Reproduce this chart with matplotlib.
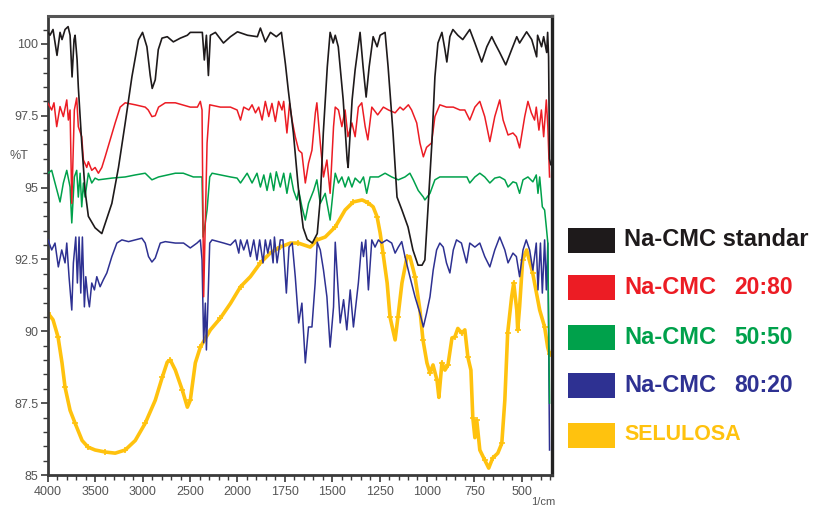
import numpy as np
import matplotlib
matplotlib.use("Agg")
import matplotlib.pyplot as plt
from matplotlib.ticker import FixedLocator, FixedFormatter
from matplotlib.patches import Rectangle

# ---- data: (wavenumber 1/cm, %T) ----
black = [(4000, 100.4), (3979, 100.3), (3947, 100.5), (3905, 99.6), (3873, 100.4), (3852, 100.15),
         (3820, 100.5), (3788, 100.6), (3767, 100.3), (3746, 98.85), (3725, 100.15), (3714, 100.3),
         (3693, 99.45), (3680, 98.5), (3644, 96.55), (3609, 94.9), (3574, 94.0), (3503, 93.6),
         (3432, 93.4), (3326, 94.45), (3256, 95.7), (3185, 97.25), (3114, 98.86), (3045, 100.14),
         (3002, 100.4), (2956, 99.9), (2921, 98.9), (2900, 98.45), (2868, 98.75), (2836, 99.8),
         (2797, 100.2), (2741, 100.25), (2677, 100.07), (2603, 100.2), (2529, 100.3), (2498, 100.4),
         (2392, 100.4), (2371, 100.4), (2350, 99.44), (2328, 100.3), (2307, 98.9), (2286, 100.3),
         (2233, 100.4), (2148, 100.03), (2074, 100.25), (2000, 100.42), (1947, 100.3), (1895, 100.25),
         (1879, 100.55), (1853, 100.07), (1826, 100.4), (1795, 100.25), (1768, 100.4), (1747, 99.3),
         (1732, 98.4), (1705, 96.9), (1679, 95.0), (1653, 93.6), (1632, 93.2), (1605, 93.07),
         (1579, 93.4), (1563, 94.6), (1547, 96.9), (1526, 99.2), (1511, 100.4), (1495, 100.03),
         (1484, 100.3), (1468, 99.9), (1442, 98.05), (1421, 95.96), (1416, 95.7), (1395, 98.05),
         (1379, 99.1), (1353, 100.4), (1337, 99.2), (1321, 98.15), (1305, 99.2), (1284, 100.25),
         (1263, 99.9), (1247, 100.3), (1221, 100.4), (1205, 99.2), (1179, 96.9), (1158, 94.67),
         (1132, 94.22), (1100, 93.63), (1074, 92.83), (1047, 92.3), (1026, 92.3), (1011, 92.48),
         (995, 94.22), (974, 96.55), (958, 98.85), (942, 100.03), (921, 100.4), (905, 99.8),
         (895, 99.37), (879, 100.25), (863, 100.5), (837, 100.3), (811, 100.15), (774, 100.5),
         (747, 100.03), (711, 99.37), (684, 99.9), (658, 100.25), (642, 100.03), (616, 99.7),
         (584, 99.27), (553, 99.8), (526, 100.25), (511, 100.03), (474, 100.42), (447, 100.15),
         (421, 99.55), (416, 100.3), (395, 99.9), (384, 100.25), (368, 99.7), (363, 100.4),
         (358, 99.55), (353, 96.0), (347, 95.8)]

red = [(4000, 97.93), (3961, 97.7), (3937, 97.95), (3908, 97.12), (3873, 97.82), (3838, 97.47),
       (3802, 98.05), (3785, 97.35), (3767, 97.7), (3749, 94.45), (3722, 97.7), (3697, 98.12),
       (3680, 97.12), (3644, 96.77), (3626, 95.96), (3591, 95.7), (3574, 95.9), (3538, 95.6),
       (3503, 95.7), (3468, 95.5), (3432, 95.7), (3397, 96.07), (3344, 96.66), (3291, 97.25),
       (3238, 97.8), (3185, 97.95), (3079, 97.88), (2974, 97.8), (2942, 97.7), (2903, 97.47),
       (2868, 97.5), (2833, 97.8), (2762, 97.95), (2656, 97.95), (2603, 97.9), (2498, 97.8),
       (2423, 97.8), (2392, 98.0), (2374, 97.7), (2357, 91.2), (2321, 96.55), (2293, 97.88),
       (2180, 97.8), (2074, 97.8), (2004, 97.7), (1984, 97.35), (1967, 97.8), (1940, 97.7),
       (1923, 97.88), (1905, 97.6), (1888, 97.8), (1870, 97.35), (1853, 98.0), (1835, 97.47),
       (1818, 97.93), (1800, 97.3), (1783, 98.0), (1765, 97.7), (1756, 98.0), (1739, 96.9),
       (1725, 97.93), (1712, 97.35), (1695, 96.77), (1677, 96.3), (1660, 96.2), (1642, 95.16),
       (1625, 95.85), (1607, 96.3), (1589, 97.6), (1581, 97.95), (1563, 96.55), (1546, 95.37),
       (1528, 95.96), (1511, 94.8), (1493, 97.12), (1484, 97.8), (1467, 97.7), (1449, 97.12),
       (1432, 97.7), (1417, 96.77), (1396, 97.25), (1379, 96.77), (1362, 97.8), (1344, 97.95),
       (1326, 97.12), (1312, 96.66), (1291, 97.8), (1260, 97.53), (1230, 97.8), (1203, 97.7),
       (1168, 97.6), (1142, 97.8), (1125, 97.7), (1098, 97.88), (1081, 97.7), (1054, 97.25),
       (1037, 96.55), (1019, 96.07), (1002, 96.4), (976, 96.55), (958, 97.47), (932, 97.88),
       (897, 97.8), (861, 97.8), (826, 97.7), (800, 97.7), (774, 97.35), (747, 97.8),
       (721, 98.0), (695, 97.47), (668, 96.6), (642, 97.47), (616, 98.05), (598, 97.35),
       (572, 96.83), (546, 96.9), (528, 96.77), (511, 96.38), (484, 97.47), (467, 98.0),
       (449, 97.6), (432, 97.35), (423, 97.8), (409, 97.0), (396, 97.7), (384, 96.77),
       (370, 98.05), (362, 97.12), (353, 95.37)]

green = [(4000, 95.5), (3961, 95.6), (3926, 95.16), (3873, 94.5), (3838, 95.16), (3802, 95.6),
         (3767, 95.02), (3749, 93.77), (3722, 95.37), (3697, 95.6), (3680, 94.67), (3661, 95.5),
         (3644, 94.33), (3626, 95.16), (3609, 94.67), (3574, 95.5), (3538, 95.16), (3503, 95.33),
         (3468, 95.27), (3326, 95.33), (3185, 95.37), (3079, 95.44), (2974, 95.5), (2903, 95.27),
         (2833, 95.37), (2656, 95.5), (2572, 95.5), (2466, 95.37), (2374, 95.37), (2363, 93.28),
         (2346, 93.63), (2321, 94.22), (2293, 95.37), (2268, 95.5), (2074, 95.37), (2004, 95.33),
         (1984, 95.16), (1949, 95.5), (1923, 95.16), (1897, 95.5), (1879, 95.02), (1861, 95.44),
         (1844, 94.9), (1826, 95.5), (1809, 94.9), (1795, 95.55), (1774, 95.02), (1756, 95.5),
         (1739, 94.8), (1721, 95.5), (1704, 94.9), (1686, 94.57), (1677, 94.9), (1660, 94.33),
         (1642, 93.87), (1625, 94.45), (1598, 94.9), (1581, 95.27), (1563, 94.45), (1537, 94.8),
         (1511, 93.87), (1493, 95.02), (1484, 95.5), (1467, 95.16), (1449, 95.37), (1432, 95.02),
         (1414, 95.37), (1396, 95.02), (1379, 95.33), (1353, 95.16), (1335, 95.37), (1318, 94.8),
         (1300, 95.37), (1256, 95.37), (1221, 95.5), (1186, 95.37), (1151, 95.27), (1116, 95.37),
         (1090, 95.5), (1072, 95.27), (1046, 94.9), (1019, 94.67), (1011, 94.57), (984, 94.8),
         (958, 95.27), (932, 95.37), (863, 95.37), (789, 95.37), (774, 95.16), (747, 95.37),
         (721, 95.5), (695, 95.37), (668, 95.16), (642, 95.33), (616, 95.37), (589, 95.27),
         (572, 95.02), (546, 95.2), (528, 95.16), (511, 94.8), (493, 95.27), (467, 95.37),
         (441, 95.2), (423, 95.44), (414, 94.8), (405, 95.37), (391, 94.33), (379, 94.22),
         (370, 93.63), (362, 93.07), (353, 87.5)]

blue = [(4000, 93.18), (3961, 92.83), (3926, 93.07), (3891, 92.24), (3855, 92.83), (3820, 92.38),
        (3802, 93.07), (3778, 91.9), (3749, 90.74), (3732, 92.38), (3707, 93.28), (3690, 91.68),
        (3672, 93.28), (3654, 91.33), (3637, 93.28), (3616, 90.85), (3601, 91.9), (3580, 91.2),
        (3563, 90.85), (3538, 91.68), (3510, 91.44), (3485, 91.9), (3450, 91.55), (3415, 91.8),
        (3379, 92.03), (3326, 92.6), (3273, 93.07), (3220, 93.18), (3150, 93.12), (3079, 93.18),
        (3009, 93.24), (2974, 93.07), (2939, 92.6), (2903, 92.41), (2868, 92.55), (2815, 93.07),
        (2762, 93.12), (2656, 93.07), (2569, 93.07), (2498, 92.9), (2427, 93.07), (2392, 93.18),
        (2374, 92.48), (2357, 89.6), (2339, 90.98), (2328, 89.35), (2314, 90.74), (2293, 93.07),
        (2268, 93.18), (2145, 93.07), (2074, 93.0), (2021, 93.18), (1993, 92.72), (1984, 93.18),
        (1967, 92.83), (1949, 93.18), (1932, 92.6), (1914, 93.18), (1897, 92.48), (1883, 93.18),
        (1865, 92.38), (1853, 93.18), (1840, 92.72), (1826, 93.18), (1812, 92.38), (1805, 93.28),
        (1791, 92.38), (1774, 93.18), (1760, 93.18), (1742, 91.33), (1728, 92.93), (1711, 93.07),
        (1695, 91.9), (1677, 90.29), (1660, 90.98), (1642, 88.9), (1625, 90.15), (1607, 90.15),
        (1590, 91.68), (1579, 93.1), (1563, 92.83), (1546, 92.13), (1528, 91.2), (1511, 89.45),
        (1493, 90.85), (1484, 93.1), (1475, 92.13), (1458, 90.29), (1440, 91.1), (1423, 90.05),
        (1405, 91.44), (1388, 90.15), (1362, 91.68), (1344, 93.1), (1335, 92.6), (1323, 93.18),
        (1309, 91.44), (1291, 93.18), (1274, 92.93), (1256, 93.18), (1239, 93.07), (1212, 93.18),
        (1186, 93.07), (1168, 92.72), (1151, 92.93), (1133, 93.12), (1116, 92.6), (1090, 91.9),
        (1063, 91.2), (1037, 90.63), (1019, 90.15), (1002, 90.63), (984, 91.2), (967, 92.13),
        (949, 92.83), (932, 93.07), (914, 92.93), (897, 92.38), (879, 92.03), (861, 92.83),
        (844, 93.18), (818, 93.07), (791, 92.38), (774, 93.07), (747, 92.93), (721, 93.07),
        (695, 92.6), (668, 92.24), (642, 92.83), (616, 93.28), (589, 92.83), (572, 92.38),
        (546, 92.72), (528, 92.6), (511, 91.9), (493, 92.83), (476, 93.18), (458, 92.83),
        (441, 92.13), (423, 93.07), (414, 91.44), (401, 93.07), (391, 91.33), (379, 93.18),
        (370, 91.44), (362, 93.07), (353, 85.87)]

yellow = [(4000, 90.63), (3947, 90.4), (3894, 89.8), (3852, 88.9), (3820, 88.05), (3767, 87.25),
          (3714, 86.8), (3640, 86.2), (3577, 85.97), (3503, 85.87), (3397, 85.8), (3291, 85.76),
          (3185, 85.87), (3079, 86.2), (2974, 86.8), (2868, 87.6), (2794, 88.4), (2741, 88.93),
          (2709, 89.0), (2656, 88.65), (2582, 87.95), (2529, 87.36), (2498, 87.6), (2445, 88.9),
          (2392, 89.45), (2286, 90.05), (2180, 90.46), (2074, 90.97), (1984, 91.55), (1932, 91.9),
          (1879, 92.38), (1826, 92.73), (1774, 92.93), (1721, 93.07), (1679, 93.07), (1616, 92.93),
          (1579, 93.18), (1537, 93.28), (1484, 93.63), (1432, 94.22), (1389, 94.5), (1342, 94.57),
          (1311, 94.47), (1284, 94.33), (1263, 93.98), (1247, 93.42), (1232, 92.73), (1210, 91.68),
          (1195, 90.5), (1168, 89.7), (1153, 90.5), (1132, 91.68), (1105, 92.6), (1090, 92.6),
          (1063, 91.9), (1037, 90.74), (1021, 89.7), (1000, 88.9), (984, 88.55), (968, 88.83),
          (947, 88.3), (937, 87.7), (921, 88.9), (905, 88.65), (889, 88.83), (868, 89.77),
          (853, 89.8), (837, 90.1), (816, 89.94), (800, 90.05), (784, 89.1), (768, 88.65),
          (758, 87.0), (747, 86.3), (737, 86.9), (721, 85.87), (695, 85.52), (674, 85.24),
          (653, 85.59), (626, 85.76), (605, 86.1), (589, 87.6), (574, 89.94), (553, 91.2),
          (542, 91.68), (526, 90.74), (521, 90.05), (511, 90.85), (495, 92.48), (474, 92.83),
          (442, 92.03), (405, 90.74), (379, 90.15), (363, 89.45), (353, 89.2)]

major_x = [4000, 3500, 3000, 2500, 2000, 1750, 1500, 1250, 1000, 750, 500]
major_y = [85, 87.5, 90, 92.5, 95, 97.5, 100]
y_labels = ["85", "87.5", "90", "92.5", "95", "97.5", "100"]

legend_labels = [("Na-CMC standar", ""), ("Na-CMC", "20:80"), ("Na-CMC", "50:50"),
                 ("Na-CMC", "80:20"), ("", "SELULOSA")]

C_BLACK = "#1e1a1b"
C_RED = "#ec1c24"
C_GREEN = "#00a14b"
C_BLUE = "#2e3192"
C_YELLOW = "#ffc20e"


def fwd(w):
    w = np.asarray(w, dtype=float)
    return np.where(w > 2000, 2000 + (w - 2000) / 2.0, w)


def inv(u):
    u = np.asarray(u, dtype=float)
    return np.where(u > 2000, 2000 + (u - 2000) * 2.0, u)


plt.rcParams['font.family'] = ['Liberation Sans', 'DejaVu Sans']

W, H = 816, 508
fig = plt.figure(figsize=(W / 100, H / 100), dpi=100)
ax = fig.add_axes([48 / W, 1 - 475 / H, (552 - 48) / W, (475 - 16) / H])
ax.set_xscale('function', functions=(fwd, inv))


def xy(series):
    a = np.array(series, dtype=float)
    return a[:, 0], a[:, 1]


x, y = xy(yellow)
ax.plot(x, y, color=C_YELLOW, lw=2.6, marker='+', ms=4, mew=1.2, markevery=2, zorder=2)
x, y = xy(blue)
ax.plot(x, y, color=C_BLUE, lw=1.1, zorder=3)
x, y = xy(green)
ax.plot(x, y, color=C_GREEN, lw=1.1, zorder=4)
x, y = xy(red)
ax.plot(x, y, color=C_RED, lw=1.1, zorder=5)
x, y = xy(black)
ax.plot(x, y, color=C_BLACK, lw=1.2, zorder=6)

ax.set_xlim(4000, 340)
ax.set_ylim(85, 100.97)

ax.xaxis.set_major_locator(FixedLocator(major_x))
ax.xaxis.set_major_formatter(FixedFormatter([str(v) for v in major_x]))
ax.xaxis.set_minor_locator(FixedLocator(list(range(3900, 2000, -100)) + list(range(1950, 340, -50))))
ax.yaxis.set_major_locator(FixedLocator(major_y))
ax.yaxis.set_major_formatter(FixedFormatter(y_labels))
ax.yaxis.set_minor_locator(FixedLocator(list(np.arange(85.5, 100.6, 0.5))))

spine_c = "#3a3a3a"
for s in ax.spines.values():
    s.set_color(spine_c)
ax.spines['left'].set_linewidth(2.0)
ax.spines['bottom'].set_linewidth(2.0)
ax.spines['top'].set_linewidth(2.2)
ax.spines['top'].set_color("#555555")
ax.spines['right'].set_linewidth(2.4)
ax.spines['right'].set_color("#222222")

ax.tick_params(axis='both', which='major', direction='out', length=5, width=1.2,
               color=spine_c, labelcolor="#555555", labelsize=9)
ax.tick_params(axis='both', which='minor', direction='out', length=3.5, width=1.0, color=spine_c)
ax.tick_params(axis='x', pad=3)
ax.tick_params(axis='y', pad=2)

fig.text(10 / W, 1 - 156 / H, "%T", fontsize=9, color="#555555", va='center', ha='left')
fig.text(531 / W, 1 - 507 / H, "1/cm", fontsize=8, color="#555555", va='bottom', ha='left')

# legend
row_y = [240, 287, 337, 385, 435]
colors = [C_BLACK, C_RED, C_GREEN, C_BLUE, C_YELLOW]
for (main, extra), cy, c in zip(legend_labels, row_y, colors):
    fig.patches.append(Rectangle((568 / W, 1 - (cy + 12.5) / H), 47 / W, 25 / H,
                                 transform=fig.transFigure, facecolor=c, edgecolor='none'))
    if main:
        fig.text(624 / W, 1 - cy / H, main, fontsize=17, color=c, fontweight='bold',
                 va='center', ha='left')
    if extra:
        ex = 734 if main else 624
        fig.text(ex / W, 1 - cy / H, extra, fontsize=16.5 if main else 15.5, color=c,
                 fontweight='bold', va='center', ha='left')

fig.savefig("out.png", dpi=100)
